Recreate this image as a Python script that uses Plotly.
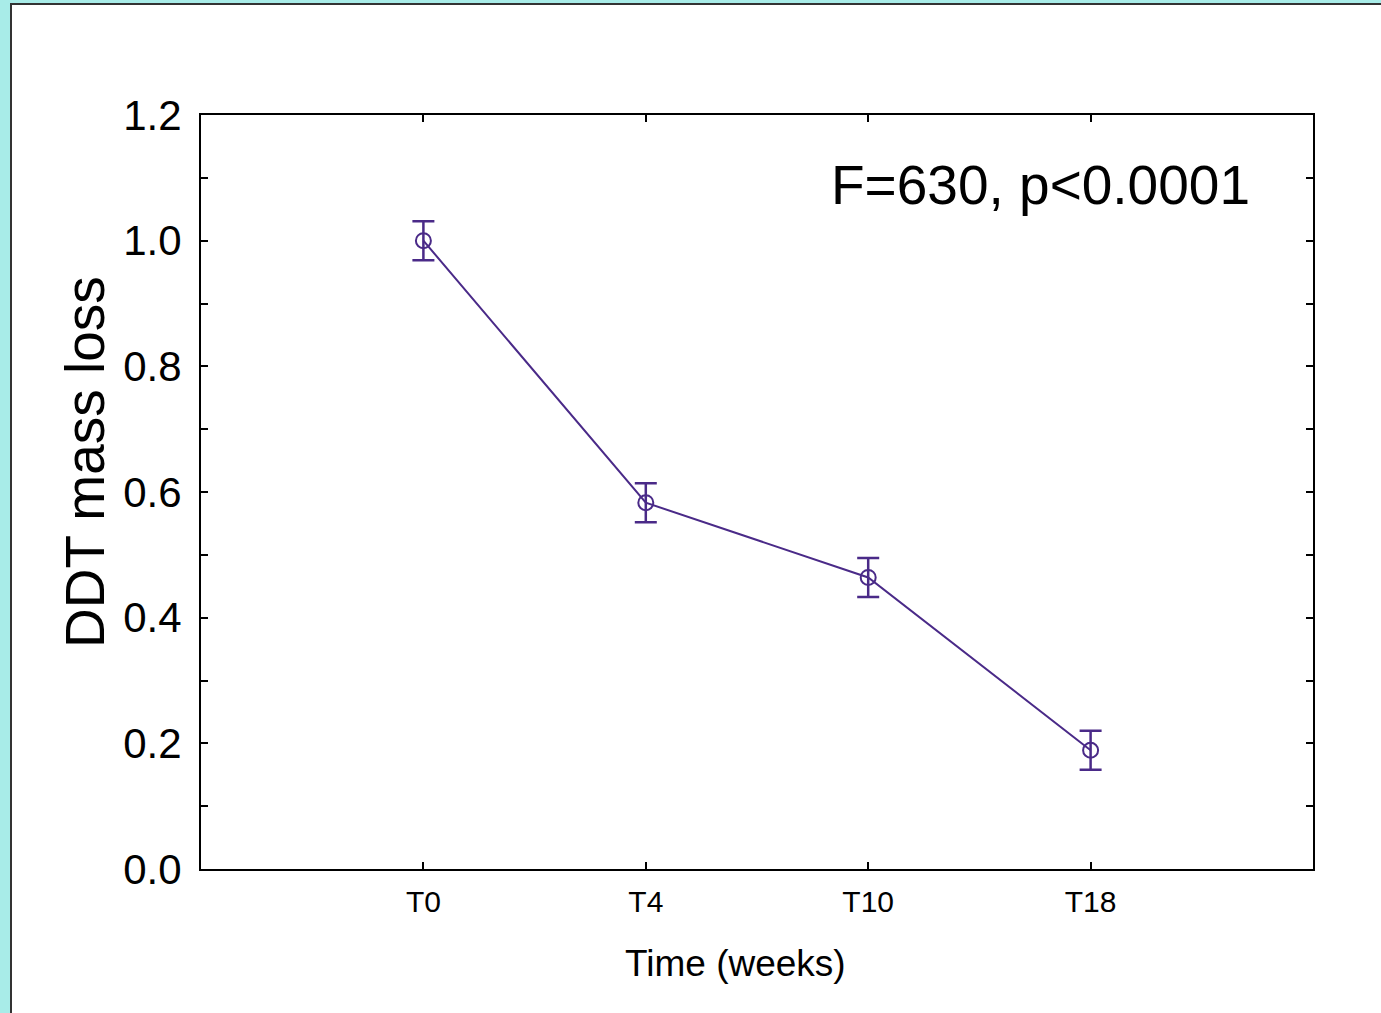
import plotly.graph_objects as go

categories = ["T0", "T4", "T10", "T18"]
mass_loss = [1.0, 0.583, 0.464, 0.189]
error = [0.031, 0.031, 0.031, 0.031]
y_ticks = [0.0, 0.2, 0.4, 0.6, 0.8, 1.0, 1.2]
y_tick_labels = ["0.0", "0.2", "0.4", "0.6", "0.8", "1.0", "1.2"]

W, H = 1381, 1013
L, R, T, B = 201, 1313, 115, 869
purple = "#4a2a88"
font = "Liberation Sans, Arial, sans-serif"

def px(x):
    return (x - L) / (R - L)

def py(y):
    return (B - y) / (B - T)

fig = go.Figure()
fig.add_trace(go.Scatter(
    x=list(range(len(categories))), y=mass_loss,
    mode="lines+markers",
    line=dict(color=purple, width=2),
    marker=dict(symbol="circle-open", size=15, color=purple, line=dict(width=2, color=purple)),
    error_y=dict(type="data", array=error, visible=True, color=purple, thickness=2.5, width=11),
    showlegend=False,
))

fig.update_xaxes(
    range=[-1, 4],
    tickmode="array", tickvals=list(range(len(categories))), ticktext=categories,
    ticks="inside", ticklen=7, tickwidth=2, tickcolor="black",
    showline=True, linecolor="black", linewidth=2, mirror="ticks",
    showgrid=False, zeroline=False, ticklabelstandoff=5,
    tickfont=dict(family=font, size=30, color="black"),
)
fig.update_yaxes(
    range=[0, 1.2],
    tickmode="array", tickvals=y_ticks, ticktext=y_tick_labels,
    ticks="inside", ticklen=7, tickwidth=2, tickcolor="black",
    minor=dict(dtick=0.1, ticks="inside", ticklen=7, tickwidth=2, tickcolor="black", showgrid=False),
    showline=True, linecolor="black", linewidth=2, mirror="ticks",
    showgrid=False, zeroline=False, ticklabelstandoff=9,
    tickfont=dict(family=font, size=42, color="black"),
)

fig.add_annotation(
    x=px(735), y=py(963), xref="paper", yref="paper",
    xanchor="center", yanchor="middle",
    text="Time (weeks)", showarrow=False,
    font=dict(family=font, size=37, color="black"),
)
fig.add_annotation(
    x=px(85), y=py(462), xref="paper", yref="paper",
    xanchor="center", yanchor="middle", textangle=-90,
    text="DDT mass loss", showarrow=False,
    font=dict(family=font, size=55, color="black"),
)
fig.add_annotation(
    x=px(1252), y=py(185), xref="paper", yref="paper",
    xanchor="right", yanchor="middle",
    text="F=630, p<0.0001", showarrow=False,
    font=dict(family=font, size=55, color="black"),
)

cyan = "#a8ece8"
fig.add_shape(type="rect", xref="paper", yref="paper", x0=px(0), x1=px(10), y0=py(H), y1=py(0),
              fillcolor=cyan, line=dict(width=0), layer="below")
fig.add_shape(type="rect", xref="paper", yref="paper", x0=px(0), x1=px(W), y0=py(3), y1=py(0),
              fillcolor=cyan, line=dict(width=0), layer="below")
fig.add_shape(type="line", xref="paper", yref="paper", x0=px(11), x1=px(11), y0=py(H), y1=py(3.5),
              line=dict(color="#333333", width=2))
fig.add_shape(type="line", xref="paper", yref="paper", x0=px(10), x1=px(W), y0=py(4), y1=py(4),
              line=dict(color="#333333", width=2))

fig.update_layout(
    width=W, height=H,
    margin=dict(l=L, r=W - R, t=T, b=H - B),
    paper_bgcolor="white", plot_bgcolor="white",
)

fig.write_html("out.html", config={"displayModeBar": False},
               post_script="document.body.style.margin='0px';")
